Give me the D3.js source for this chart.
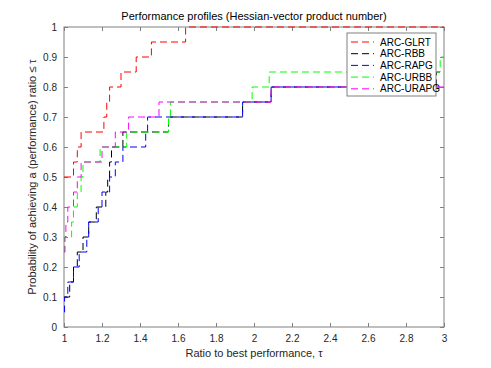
<!DOCTYPE html>
<html>
<head>
<meta charset="utf-8">
<script src="https://cdn.jsdelivr.net/npm/d3@7"></script>
<style>
  body { margin: 0; background: #fff; }
  svg { display: block; font-family: "Liberation Sans", Arial, sans-serif; }
</style>
</head>
<body>
<div id="chart"></div>
<script>
// performance profile data (tau where each step starts, fraction of problems)
const seriesNames = ["ARC-GLRT", "ARC-RBB", "ARC-RAPG", "ARC-URBB", "ARC-URAPG"];
const seriesColors = ["#ff0000", "#000000", "#0000ff", "#00ff00", "#ff00ff"];

const glrtTau = [1, 1.05, 1.07, 1.09, 1.21, 1.225, 1.24, 1.3, 1.38, 1.46, 1.64, 3];
const glrtProb = [0.5, 0.55, 0.6, 0.65, 0.7, 0.75, 0.8, 0.85, 0.9, 0.95, 1, 1];

const rbbTau = [1, 1.03, 1.05, 1.07, 1.1, 1.13, 1.17, 1.22, 1.23, 1.24, 1.25, 1.31, 1.55, 1.94, 2.09, 2.96, 3];
const rbbProb = [0.1, 0.15, 0.2, 0.25, 0.3, 0.35, 0.4, 0.45, 0.5, 0.55, 0.6, 0.65, 0.7, 0.75, 0.8, 0.85, 0.85];

const rapgTau = [1, 1.003, 1.02, 1.05, 1.08, 1.12, 1.13, 1.18, 1.2, 1.24, 1.27, 1.31, 1.43, 1.44, 1.94, 2.09, 3];
const rapgProb = [0.05, 0.1, 0.15, 0.2, 0.25, 0.3, 0.35, 0.4, 0.45, 0.5, 0.55, 0.6, 0.65, 0.7, 0.75, 0.8, 0.8];

const urbbTau = [1, 1.003, 1.04, 1.05, 1.07, 1.09, 1.1, 1.19, 1.33, 1.55, 1.56, 1.99, 2.08, 2.98, 3];
const urbbProb = [0.25, 0.3, 0.35, 0.4, 0.45, 0.5, 0.55, 0.6, 0.65, 0.7, 0.75, 0.8, 0.85, 0.9, 0.9];

const urapgTau = [1, 1.005, 1.01, 1.02, 1.05, 1.07, 1.09, 1.2, 1.27, 1.34, 1.5, 2.09, 3];
const urapgProb = [0.25, 0.3, 0.35, 0.4, 0.45, 0.5, 0.55, 0.6, 0.65, 0.7, 0.75, 0.8, 0.8];

const xTicks = [1, 1.2, 1.4, 1.6, 1.8, 2, 2.2, 2.4, 2.6, 2.8, 3];
const yTicks = [0, 0.1, 0.2, 0.3, 0.4, 0.5, 0.6, 0.7, 0.8, 0.9, 1];

const allTau = [glrtTau, rbbTau, rapgTau, urbbTau, urapgTau];
const allProb = [glrtProb, rbbProb, rapgProb, urbbProb, urapgProb];

const W = 491, H = 368;
const margin = { top: 27, right: 47, bottom: 41, left: 64 };
const width = W - margin.left - margin.right;
const height = H - margin.top - margin.bottom;

const svg = d3.select("#chart").append("svg")
  .attr("width", W)
  .attr("height", H);

const g = svg.append("g")
  .attr("transform", `translate(${margin.left},${margin.top})`);

const x = d3.scaleLinear().domain([1, 3]).range([0, width]);
const y = d3.scaleLinear().domain([0, 1]).range([height, 0]);

const axisColor = "#808080";
const tickLen = 4;

function styleAxis(sel, showText) {
  sel.select(".domain").remove();
  sel.selectAll(".tick line").attr("stroke", axisColor);
  sel.selectAll(".tick text")
    .attr("fill", "#262626")
    .style("font-size", "10px")
    .style("display", showText ? null : "none");
}

g.append("g")
  .attr("transform", `translate(0,${height})`)
  .call(d3.axisBottom(x).tickValues(xTicks).tickFormat(d3.format("")).tickSizeInner(-tickLen).tickPadding(8))
  .call(s => styleAxis(s, true));

g.append("g")
  .call(d3.axisTop(x).tickValues(xTicks).tickSizeInner(-tickLen))
  .call(s => styleAxis(s, false));

g.append("g")
  .call(d3.axisLeft(y).tickValues(yTicks).tickFormat(d3.format("")).tickSizeInner(-tickLen).tickPadding(7))
  .call(s => styleAxis(s, true));

g.append("g")
  .attr("transform", `translate(${width},0)`)
  .call(d3.axisRight(y).tickValues(yTicks).tickSizeInner(-tickLen))
  .call(s => styleAxis(s, false));

g.append("rect")
  .attr("width", width)
  .attr("height", height)
  .attr("fill", "none")
  .attr("stroke", axisColor)
  .attr("stroke-width", 1);

const line = d3.line()
  .x(d => x(d[0]))
  .y(d => y(d[1]))
  .curve(d3.curveStepAfter);

seriesNames.forEach((name, i) => {
  const pts = allTau[i].map((t, j) => [t, allProb[i][j]]);
  g.append("path")
    .datum(pts)
    .attr("fill", "none")
    .attr("stroke", seriesColors[i])
    .attr("stroke-width", 1)
    .attr("stroke-dasharray", "7,4")
    .attr("d", line);
});

// title and axis labels
svg.append("text")
  .attr("x", margin.left + width / 2)
  .attr("y", 20)
  .attr("text-anchor", "middle")
  .style("font-size", "11px")
  .attr("fill", "#000")
  .text("Performance profiles (Hessian-vector product number)");

svg.append("text")
  .attr("x", margin.left + width / 2)
  .attr("y", 357)
  .attr("text-anchor", "middle")
  .style("font-size", "11px")
  .attr("fill", "#262626")
  .text("Ratio to best performance, \u03c4");

svg.append("text")
  .attr("transform", `translate(36,${margin.top + height / 2}) rotate(-90)`)
  .attr("text-anchor", "middle")
  .style("font-size", "11px")
  .attr("fill", "#262626")
  .text("Probability of achieving a (performance) ratio \u2264 \u03c4");

// legend
const legend = svg.append("g").attr("transform", "translate(347,33)");
legend.append("rect")
  .attr("width", 89)
  .attr("height", 63)
  .attr("fill", "#fff")
  .attr("stroke", axisColor);

seriesNames.forEach((name, i) => {
  const ly = 9 + i * 11.7;
  legend.append("line")
    .attr("x1", 4).attr("x2", 27)
    .attr("y1", ly).attr("y2", ly)
    .attr("stroke", seriesColors[i])
    .attr("stroke-dasharray", "7,4");
  legend.append("text")
    .attr("x", 33)
    .attr("y", ly + 3.5)
    .style("font-size", "10px")
    .attr("fill", "#000")
    .text(name);
});
</script>
</body>
</html>
